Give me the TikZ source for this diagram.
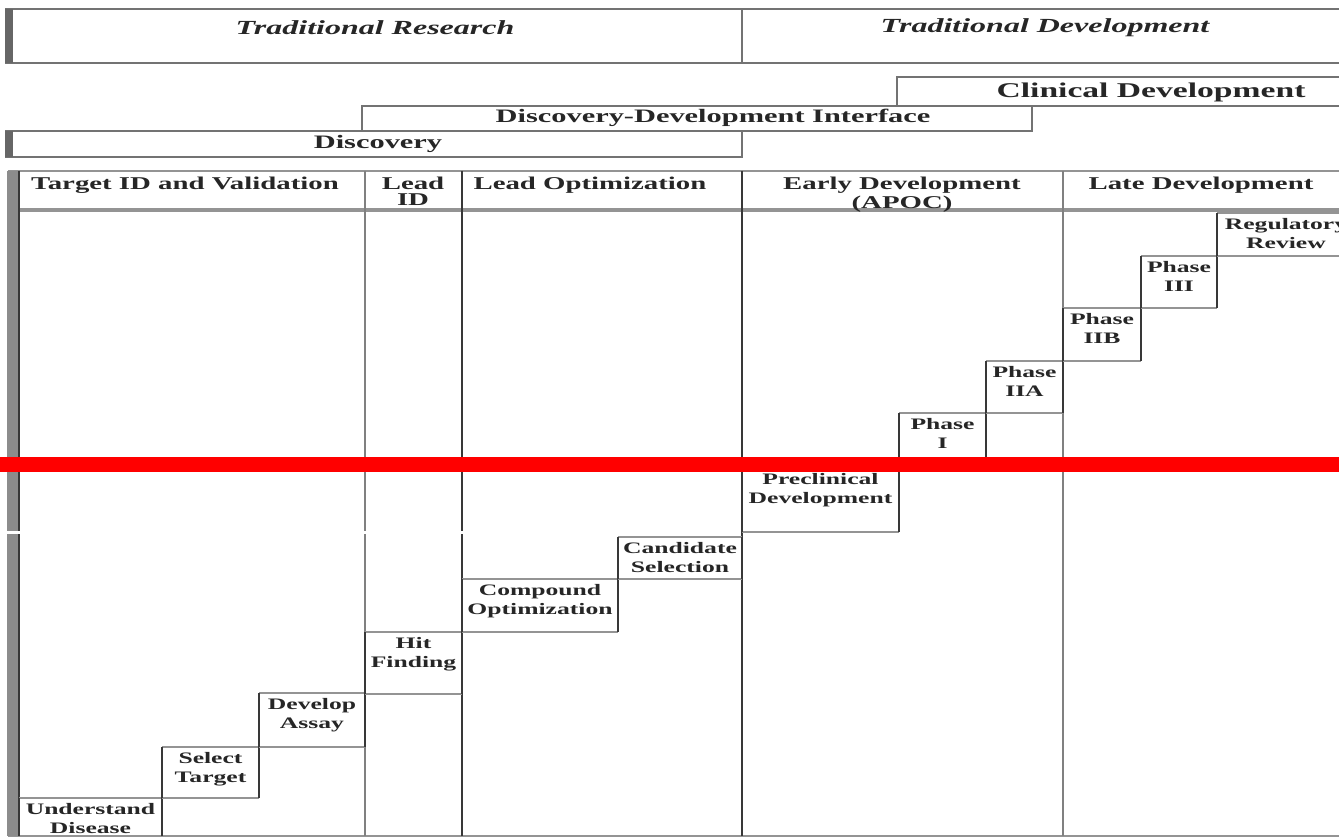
\documentclass[tikz,border=0pt]{standalone}
\usepackage{fontspec}
\setmainfont{Liberation Serif}[FakeStretch=1.6]

\begin{document}
\begin{tikzpicture}[
    x=0.5pt, y=-0.5pt,
    hline/.style={draw=black!42, line width=1.3pt},
    vline/.style={draw=black!78, line width=1.1pt},
    bandbox/.style={draw=black!55, line width=1.2pt},
    leftbar/.style={fill=black!45},
    title/.style={font=\fontsize{10}{12}\selectfont\bfseries\itshape, text=black!85},
    banner/.style={font=\fontsize{9.5}{11}\selectfont\bfseries, text=black!85},
    colhead/.style={font=\fontsize{9}{8}\selectfont\bfseries, text=black!85, align=center, anchor=north, inner sep=0pt},
    steplabel/.style={font=\fontsize{8}{9.5}\selectfont\bfseries, text=black!85, align=center, anchor=north, inner sep=0pt}
]
  \clip (0,0) rectangle (1339,840);
  \fill[white] (0,0) rectangle (1339,840);

  % top banner
  \draw[bandbox] (6,9) rectangle (1350,63);
  \fill[leftbar, fill=black!60] (5,9) rectangle (13,63);
  \draw[bandbox] (742,9) -- (742,63);
  \node[title] (research) at (375,28) {Traditional Research};
  \node[title] (tradev) at (1045,28) {Traditional Development};

  % stage banners
  \draw[bandbox] (897,77) rectangle (1405,106);
  \draw[bandbox] (362,106) rectangle (1032,131);
  \draw[bandbox] (6,131) rectangle (742,157);
  \fill[leftbar, fill=black!60] (5,131) rectangle (13,157);
  \node[banner, font=\fontsize{10.5}{12}\selectfont\bfseries] (clinical) at (1151,92) {Clinical Development};
  \node[banner] (interface) at (713,118) {Discovery-Development Interface};
  \node[banner] (discovery) at (378,144) {Discovery};

  % column frame
  \draw[hline] (8,171) -- (1339,171);
  \draw[hline, line width=1.6pt] (8,210) -- (1339,210);
  \draw[hline] (8,836) -- (1339,836);
  \fill[leftbar] (7,171) rectangle (20,836);
  \draw[vline] (19,171) -- (19,836);
  \draw[vline, draw=black!50] (365,171) -- (365,836);
  \draw[vline] (462,171) -- (462,836);
  \draw[vline] (742,171) -- (742,836);
  \draw[vline, draw=black!50] (1063,171) -- (1063,836);

  \node[colhead] (targetid) at (185,177) {Target ID and Validation};
  \node[colhead] (leadid) at (413,177) {Lead\\ID};
  \node[colhead] (leadopt) at (590,177) {Lead Optimization};
  \node[colhead] (earlydev) at (902,177) {Early Development\\(APOC)};
  \node[colhead] (latedev) at (1201,177) {Late Development};

  % staircase of steps
  \foreach \xa/\ya/\xb/\yb/\name/\txt in {
      19/798/162/836/disease/{Understand\\Disease},
      162/747/259/798/target/{Select\\Target},
      259/693/365/747/assay/{Develop\\Assay},
      365/632/462/694/hit/{Hit\\Finding},
      462/579/618/632/compound/{Compound\\Optimization},
      618/537/742/579/candidate/{Candidate\\Selection},
      742/468/899/532/preclin/{Preclinical\\Development},
      899/413/986/468/phasei/{Phase\\I},
      986/361/1063/413/phaseiia/{Phase\\IIA},
      1063/308/1141/361/phaseiib/{Phase\\IIB},
      1141/256/1217/308/phaseiii/{Phase\\III},
      1217/213/1355/256/review/{Regulatory\\Review}} {
    \draw[hline] (\xa,\ya) -- (\xb,\ya) (\xa,\yb) -- (\xb,\yb);
    \draw[vline] (\xa,\ya) -- (\xa,\yb) (\xb,\ya) -- (\xb,\yb);
    \node[steplabel] (\name) at ({(\xa+\xb)/2},{\ya+5}) {\txt};
  }

  % break in the left columns
  \fill[white] (0,531) rectangle (739,533.5);

  % red marker line
  \fill[red] (0,457) rectangle (1339,472);
\end{tikzpicture}
\end{document}
